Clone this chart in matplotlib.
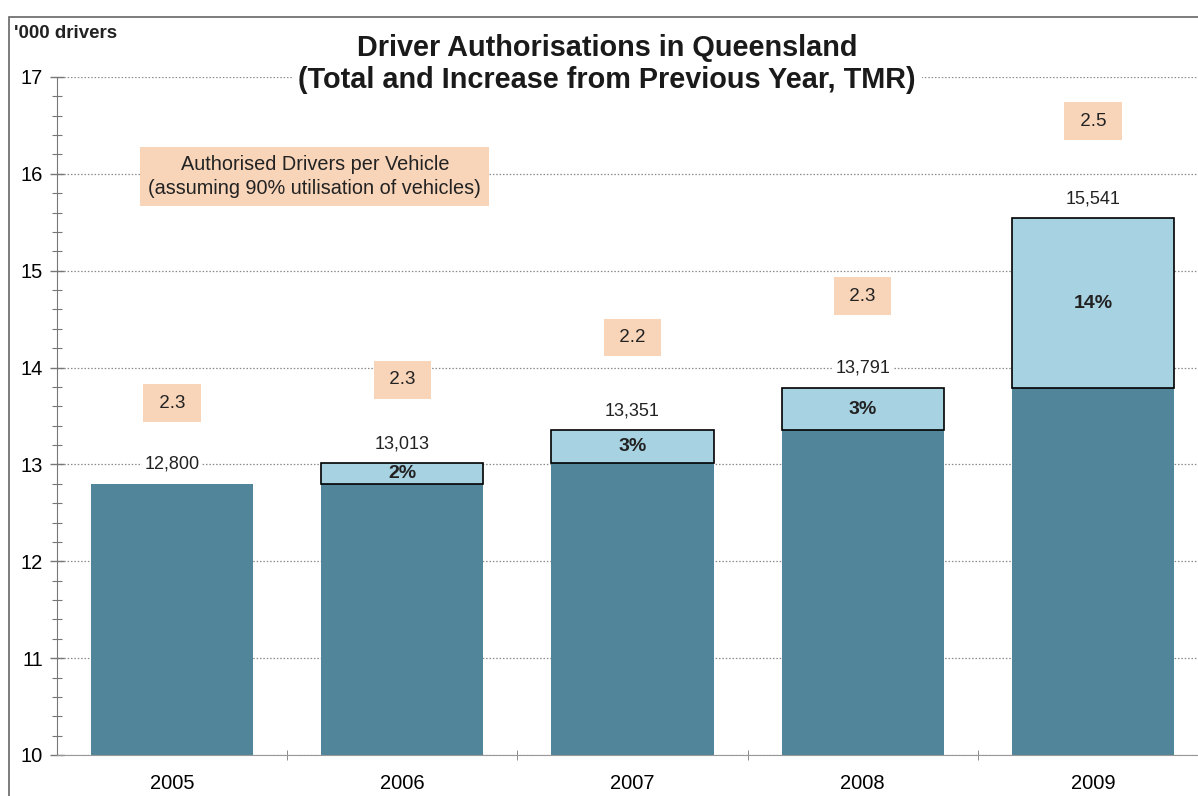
import numpy as np
import matplotlib
matplotlib.use("Agg")
import matplotlib.pyplot as plt
from matplotlib.patches import Rectangle

plt.rcParams['font.family'] = ['Liberation Sans', 'DejaVu Sans']

# data ('000 drivers)
years = ["2005", "2006", "2007", "2008", "2009"]
totals = [12.800, 13.013, 13.351, 13.791, 15.541]
total_labels = ["12,800", "13,013", "13,351", "13,791", "15,541"]
pct_labels = ["", "2%", "3%", "3%", "14%"]
drivers_per_vehicle = ["2.3", "2.3", "2.2", "2.3", "2.5"]

# layout: how far above each total the ratio box sits (points)
ratio_offsets = [58, 60, 67, 66, 70]

dark = "#50859a"
light = "#a7d2e2"
box_col = "#f8d4b9"

x = np.arange(len(years))
base = [totals[0]] + totals[:-1]
inc = [t - b for t, b in zip(totals, base)]

fig = plt.figure(figsize=(11.98, 7.96), dpi=100)
ax = fig.add_axes([57 / 1198, 1 - 755 / 796, 1151 / 1198, 678 / 796])

ax.bar(x, base, width=0.705, bottom=0, color=dark, zorder=2)
ax.bar(x[1:], inc[1:], width=0.705, bottom=base[1:], color=light,
       edgecolor="black", linewidth=1.2, zorder=3)

ax.set_xlim(-0.5, 4.5)
ax.set_ylim(10, 17)

# labels
for i in range(len(years)):
    ax.annotate(total_labels[i], (x[i], totals[i]), xytext=(0, 14),
                textcoords="offset points", ha="center", va="center",
                fontsize=13, color="#222222", zorder=5,
                bbox=dict(boxstyle="square,pad=0.15", fc="white", ec="none"))
    if pct_labels[i]:
        ax.text(x[i], base[i] + inc[i] / 2, pct_labels[i], ha="center",
                va="center", fontsize=14, fontweight="bold", color="#222222",
                zorder=5)
    ax.annotate(" " + drivers_per_vehicle[i] + " ", (x[i], totals[i]),
                xytext=(0, ratio_offsets[i]), textcoords="offset points",
                ha="center", va="center", fontsize=13.5, color="#222222",
                zorder=5,
                bbox=dict(boxstyle="square,pad=0.55", fc=box_col, ec="none"))

ax.text(0.62, 15.97, "Authorised Drivers per Vehicle\n(assuming 90% utilisation of vehicles)",
        ha="center", va="center", fontsize=14.3, color="#222222",
        linespacing=1.35, zorder=5,
        bbox=dict(boxstyle="square,pad=0.4", fc=box_col, ec="none"))

# axes styling
ax.set_yticks(np.arange(10, 18, 1))
ax.set_yticks(np.arange(10, 17.01, 0.2), minor=True)
ax.yaxis.grid(True, which="major", linestyle=(0, (1.2, 1.5)), color="#8a8a8a",
              linewidth=0.9, zorder=0)
ax.set_axisbelow(True)
ax.tick_params(axis="y", which="major", direction="inout", length=10,
               width=1, color="#777777", labelsize=14.5, pad=5)
ax.tick_params(axis="y", which="minor", direction="inout", length=7,
               width=0.8, color="#777777")

ax.set_xticks(x)
ax.set_xticklabels(years)
ax.set_xticks(x[:-1] + 0.5, minor=True)
ax.tick_params(axis="x", which="major", length=0, labelsize=14.5, pad=14)
ax.tick_params(axis="x", which="minor", direction="inout", length=7,
               color="#777777")

for s in ["top", "right"]:
    ax.spines[s].set_visible(False)
ax.spines["left"].set_color("#777777")
ax.spines["bottom"].set_color("#999999")

fig.text(14 / 1198, 1 - 33 / 796, "'000 drivers", fontsize=13.5,
         fontweight="bold", va="center", ha="left", color="#222222")
fig.text(607 / 1198, 1 - 64 / 796,
         "Driver Authorisations in Queensland\n(Total and Increase from Previous Year, TMR)",
         ha="center", va="center", fontsize=20.8, fontweight="bold",
         color="#1a1a1a", linespacing=1.22,
         bbox=dict(boxstyle="square,pad=0.2", fc="white", ec="none"))

# outer frame from the scanned page
fig.patches.append(Rectangle((9 / 1198, -0.1), 1.2, 1 - 17 / 796 + 0.1,
                             transform=fig.transFigure, fill=False,
                             ec="#666666", lw=1.2))

fig.savefig("out.png", dpi=100)
